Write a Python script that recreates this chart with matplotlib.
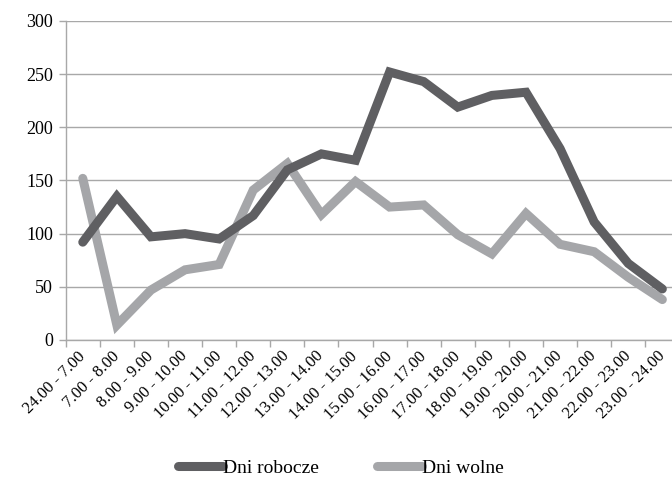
import matplotlib
matplotlib.use("Agg")
import matplotlib.pyplot as plt

plt.rcParams['font.family'] = ['Liberation Serif', 'DejaVu Serif']

# time slots on the x axis
hours = ["24.00 - 7.00", "7.00 - 8.00", "8.00 - 9.00", "9.00 - 10.00",
         "10.00 - 11.00", "11.00 - 12.00", "12.00 - 13.00", "13.00 - 14.00",
         "14.00 - 15.00", "15.00 - 16.00", "16.00 - 17.00", "17.00 - 18.00",
         "18.00 - 19.00", "19.00 - 20.00", "20.00 - 21.00", "21.00 - 22.00",
         "22.00 - 23.00", "23.00 - 24.00"]

# counts per slot
robocze = [92, 135, 97, 100, 95, 117, 160, 175, 169, 252, 243, 219,
           230, 233, 180, 111, 72, 48]
wolne = [152, 14, 47, 66, 71, 141, 166, 118, 149, 125, 127, 99,
         81, 119, 90, 83, 59, 38]

fig = plt.figure(figsize=(6.72, 4.79), dpi=100)
ax = fig.add_axes([0.0978, 0.2902, 1.011 - 0.0978, 0.9562 - 0.2902])

x = list(range(len(hours)))
ax.plot(x, robocze, color='#5f5f62', lw=6.5, solid_joinstyle='miter',
        solid_capstyle='round', label='Dni robocze', zorder=3)
ax.plot(x, wolne, color='#a5a6a9', lw=6.5, solid_joinstyle='miter',
        solid_capstyle='round', label='Dni wolne', zorder=2)

ax.set_xlim(-0.5, len(hours) - 0.5)
ax.set_ylim(0, 300)
ax.set_yticks(range(0, 301, 50))
ax.yaxis.grid(True, color='#a8a8a8', lw=1)
ax.set_axisbelow(True)

# category labels at centres, tick marks at boundaries
ax.set_xticks(x)
ax.set_xticklabels(hours, rotation=45, ha='right', va='center',
                   rotation_mode='anchor', fontsize=12)
ax.tick_params(axis='x', which='major', length=0, pad=10)
ax.set_xticks([i - 0.5 for i in range(len(hours) + 1)], minor=True)
ax.tick_params(axis='x', which='minor', length=5, color='#a8a8a8', width=1)
ax.tick_params(axis='y', length=5, color='#a8a8a8', width=1, labelsize=13,
               pad=4)

for s in ['top', 'right']:
    ax.spines[s].set_visible(False)
for s in ['left', 'bottom']:
    ax.spines[s].set_color('#a8a8a8')
    ax.spines[s].set_linewidth(1)

fig.legend(loc='center', bbox_to_anchor=(0.507, 0.023), ncol=2, frameon=False,
           fontsize=14, handlelength=2.3, handletextpad=0.0,
           columnspacing=3.0)

fig.savefig('out.png', dpi=100)
